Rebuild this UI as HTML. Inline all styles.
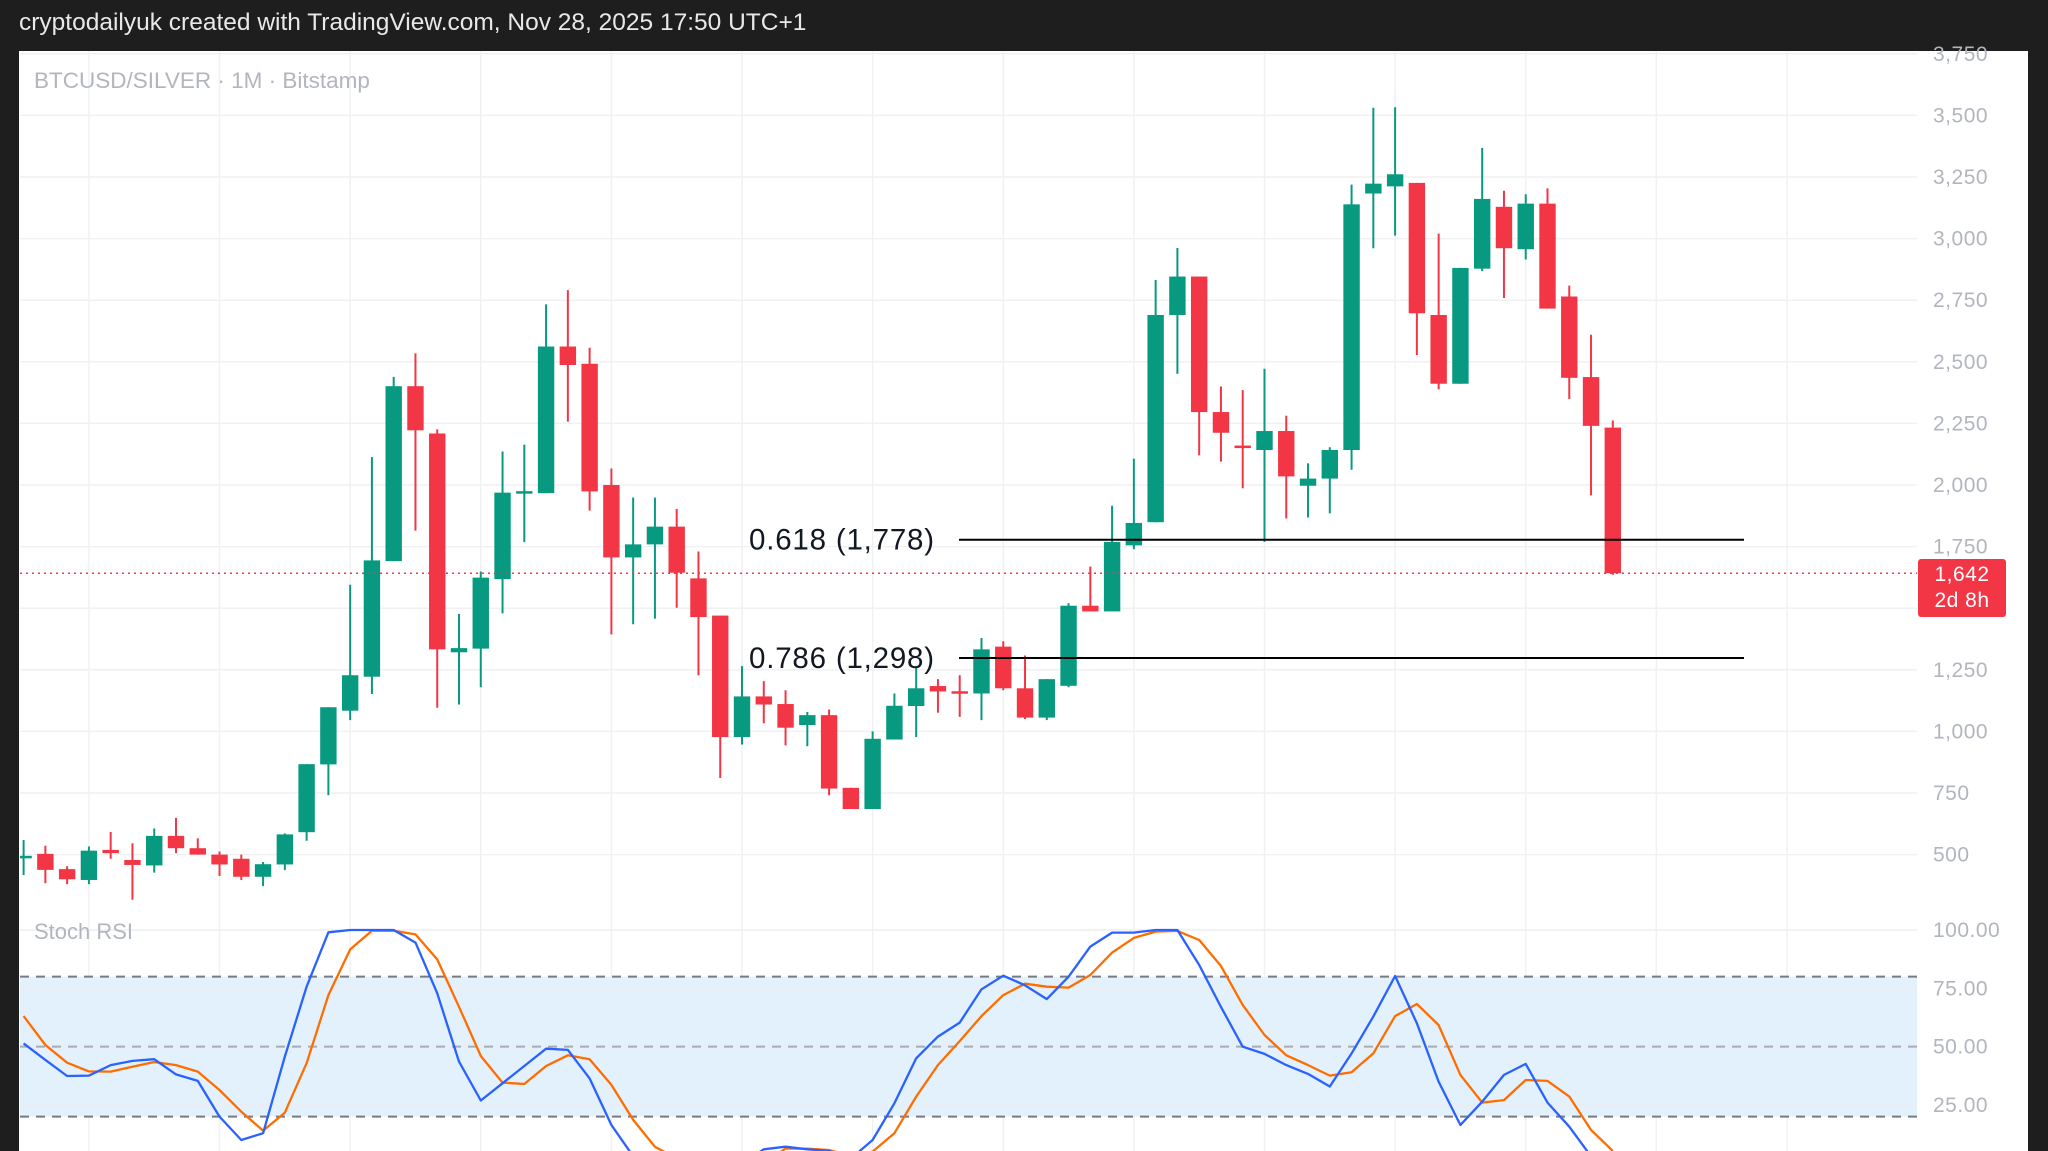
<!DOCTYPE html>
<html><head><meta charset="utf-8"><style>
html,body{margin:0;padding:0;background:#1e1e1e;}
body{width:2048px;height:1151px;overflow:hidden;position:relative;font-family:"Liberation Sans",sans-serif;}
#hdr{position:absolute;left:19px;top:9px;color:#e8e8e8;font-size:24.5px;letter-spacing:0px;}
svg{position:absolute;left:0;top:0;}
</style></head><body>
<div id="hdr">cryptodailyuk created with TradingView.com, Nov 28, 2025 17:50 UTC+1</div>
<svg id="c" width="2048" height="1151"></svg>
<script>
const opens  =[488,503,441,397,519,478,456,576,526,500,483,410,460,591,866,1084,1222,1691,2401,2209,1321,1336,1618,1970,1967,2562,2492,2000,1706,1759,1831,1621,1470,977,1142,1111,1026,1066,771,685,967,1103,1184,1163,1154,1344,1175,1056,1185,1510,1487,1755,1849,2690,2846,2296,2160,2142,2219,1997,2026,2142,3183,3212,3226,2690,2411,2878,3129,2957,3142,2765,2438,2233];
const closes =[495,438,400,516,506,458,576,526,500,460,410,461,582,867,1098,1228,1694,2401,2222,1333,1338,1624,1969,1975,2562,2487,1974,1706,1759,1831,1644,1464,977,1142,1109,1015,1066,768,685,970,1104,1175,1162,1159,1333,1175,1056,1212,1510,1487,1769,1846,2690,2846,2296,2212,2153,2219,2035,2026,2142,3139,3223,3261,2697,2411,2881,3161,2961,3142,2716,2435,2240,1642];
const highs  =[559,536,453,533,592,546,606,649,566,513,500,470,586,867,1098,1595,2113,2439,2534,2226,1477,1649,2136,2164,2733,2791,2557,2067,1949,1949,1903,1730,1470,1265,1204,1167,1079,1089,771,1000,1154,1262,1212,1228,1379,1366,1308,1212,1520,1669,1916,2107,2832,2962,2846,2400,2385,2472,2281,2088,2153,3219,3531,3533,3226,3020,2881,3368,3194,3180,3204,2809,2610,2262];
const lows   =[417,384,380,380,483,317,427,506,500,413,397,372,437,556,741,1046,1152,1691,1815,1096,1109,1179,1479,1768,1967,2257,1896,1394,1435,1457,1502,1228,811,947,1033,943,940,741,685,685,967,977,1076,1059,1046,1167,1050,1046,1179,1487,1487,1740,1849,2451,2120,2095,1987,1769,1864,1868,1885,2062,2961,3012,2527,2388,2411,2868,2759,2915,2716,2349,1958,1636];
const stochK =[51.4,44.3,37.4,37.6,42.1,43.9,44.6,38.1,35.3,20,10,12.9,45.7,75.7,99,100,100,100,94.6,72.9,43.6,26.9,34.3,41.7,49.1,48.6,36.4,16.4,3,0,0,0,0,0,6,7.1,6,5.3,2,10,25.7,45,54.3,60.3,74.6,80.4,76.3,70.4,80,92.9,98.9,98.9,100,100,85,67.1,50,46.9,42.1,38.3,32.9,47.1,62.9,80.3,60,35,16.4,26.4,37.9,42.6,26,15.7,3,0];
const stochD =[63.1,50.7,43.1,39.4,39.3,41.4,43.4,42.1,39.3,31.4,22.1,14,21.7,42.9,72.1,91.7,99.7,99.7,98.1,87.4,67.1,46,34.6,34,41.7,46.3,44.6,33.6,18.6,7.1,2,0,0,0,0,6.3,6.3,5.7,3,5,12.9,28.6,42.1,52.4,63.1,72.1,77,75.7,75.3,80.7,90.3,96.6,99.3,99.6,95.7,84.6,67.9,55,46.3,42.1,37.6,39,47.1,63.1,68.3,59.3,37.9,26,27.1,35.7,35.3,28.6,14.3,5.3];
const priceTicks=[500,750,1000,1250,1500,1750,2000,2250,2500,2750,3000,3250,3500,3750];
const priceLabels=["500","750","1,000","1,250","","1,750","2,000","2,250","2,500","2,750","3,000","3,250","3,500","3,750"];
const rsiTicks=[100,75,50,25];
const rsiLabels=["100.00","75.00","50.00","25.00"];
const fibLevels=[1778,1298];
const fibLabels=["0.618 (1,778)","0.786 (1,298)"];
const lastPrice=1642;

const NS="http://www.w3.org/2000/svg";
const svg=document.getElementById('c');
function el(tag,attrs,parent){const e=document.createElementNS(NS,tag);for(const k in attrs)e.setAttribute(k,attrs[k]);(parent||svg).appendChild(e);return e;}
const PL=20,PR=1917;
const xOf=i=>23.6+i*21.77;
const yP=p=>854.6-(p-500)*0.2464;
const yR=v=>930+(100-v)*2.333;

const bg=el('rect',{x:19,y:51,width:2009,height:1100,fill:'#ffffff'});


const defs=el('defs',{});
const cp=el('clipPath',{id:'pc'},defs);el('rect',{x:PL,y:51,width:PR-PL,height:855},cp);
const cr=el('clipPath',{id:'rc'},defs);el('rect',{x:PL,y:906,width:PR-PL,height:245},cr);

for(let i=3;i<90;i+=6){const x=xOf(i);if(x>PR)break;
 const g=el('line',{x1:x,x2:x,y1:51,y2:1151,stroke:'#f0f1f3','stroke-width':1.5});
 
 }
priceTicks.forEach((p,k)=>{const y=yP(p);
 const g=el('line',{x1:PL,x2:PR,y1:y,y2:y,stroke:'#f0f1f3','stroke-width':1.5});
 
 
 if(priceLabels[k]){const t=el('text',{x:1933,y:y+7,fill:'#b2b5be','font-size':21,'letter-spacing':0.5,'font-family':'Liberation Sans, sans-serif'});t.textContent=priceLabels[k];
 
 }
});
const band=el('rect',{x:PL,y:yR(80),width:PR-PL,height:yR(20)-yR(80),fill:'#e3f1fd'});


rsiTicks.forEach((v,k)=>{const y=yR(v);
 const g=el('line',{x1:PL,x2:PR,y1:y,y2:y,stroke:'#eceef1','stroke-width':1.5});
 
 
 const t=el('text',{x:1933,y:y+7,fill:'#b2b5be','font-size':21,'letter-spacing':0.5,'font-family':'Liberation Sans, sans-serif'});t.textContent=rsiLabels[k];
 
 });
[[80,'#787b86'],[50,'#a8abb3'],[20,'#787b86']].forEach(([v,c])=>{const l=el('line',{x1:PL,x2:PR,y1:yR(v),y2:yR(v),stroke:c,'stroke-width':2,'stroke-dasharray':'9 7'});
 
 });

const cg=el('g',{'clip-path':'url(#pc)'});


opens.forEach((o,i)=>{const c=closes[i],up=c>=o,col=up?'#089981':'#f23645',x=xOf(i);
 const w=el('line',{x1:x,x2:x,y1:yP(highs[i]),y2:yP(lows[i]),stroke:col,'stroke-width':2},cg);
 
 
 const top=yP(Math.max(o,c)),h=Math.max(2.5,yP(Math.min(o,c))-top);
 const b=el('rect',{x:x-8.2,y:top,width:16.4,height:h,fill:col},cg);
 
 });

fibLevels.forEach((p,k)=>{const y=yP(p);
 const l=el('line',{x1:959,x2:1744,y1:y,y2:y,stroke:'#000','stroke-width':2});
 
 
 const t=el('text',{x:749,y:y+10,fill:'#131722','font-size':29.5,'letter-spacing':0.8,'font-family':'Liberation Sans, sans-serif'});t.textContent=fibLabels[k];
 
 });

const lp=el('line',{x1:PL,x2:PR,y1:yP(lastPrice),y2:yP(lastPrice),stroke:'#f23645','stroke-width':1.5,'stroke-dasharray':'2 4'});


const tag=el('rect',{x:1918,y:559,width:88,height:58,rx:3,fill:'#f23645'});


const t1=el('text',{x:1962,y:581,fill:'#fff','font-size':21,'letter-spacing':0.5,'text-anchor':'middle','font-family':'Liberation Sans, sans-serif'});t1.textContent='1,642';


const t2=el('text',{x:1962,y:607,fill:'#fff','font-size':21,'letter-spacing':0.5,'text-anchor':'middle','font-family':'Liberation Sans, sans-serif'});t2.textContent='2d 8h';



const rg=el('g',{'clip-path':'url(#rc)'});
function poly(arr,col,name){const pts=arr.map((v,i)=>xOf(i).toFixed(1)+','+yR(v).toFixed(1)).join(' ');
 const p=el('polyline',{points:pts,fill:'none',stroke:col,'stroke-width':2.3,'stroke-linejoin':'round'},rg);
 
 }
poly(stochD,'#ff6d00','stoch-rsi-d-line');
poly(stochK,'#2962ff','stoch-rsi-k-line');

const tt=el('text',{x:34,y:88,fill:'#b2b5be','font-size':22.5,'font-family':'Liberation Sans, sans-serif'});tt.textContent='BTCUSD/SILVER · 1M · Bitstamp';


const rt=el('text',{x:34,y:939,fill:'#b2b5be','font-size':22,'font-family':'Liberation Sans, sans-serif'});rt.textContent='Stoch RSI';


</script>
</body></html>
